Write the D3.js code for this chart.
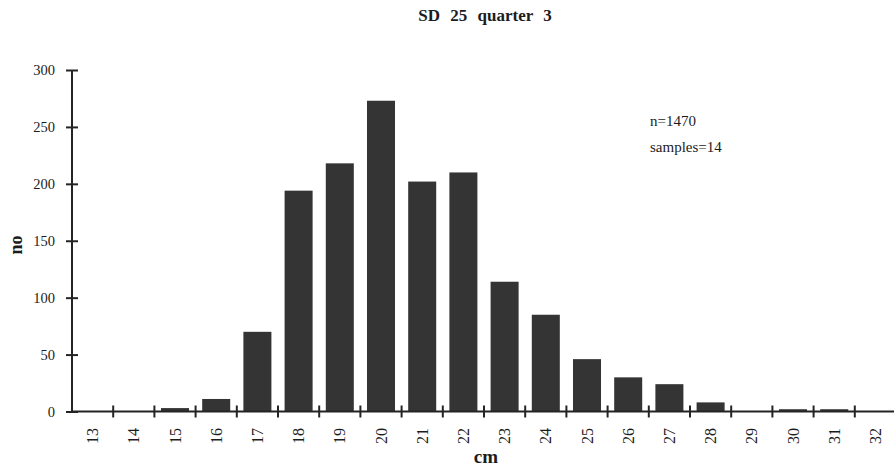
<!DOCTYPE html>
<html>
<head>
<meta charset="utf-8">
<script src="https://cdn.jsdelivr.net/npm/d3@7"></script>
<style>
  html, body { margin: 0; padding: 0; background: #fff; }
  svg { display: block; }
  text { font-family: "Liberation Serif", "Times New Roman", serif; fill: #1c1c1c; }
</style>
</head>
<body>
<svg id="chart" width="894" height="469"></svg>
<script>
// Length classes (cm) and number of fish per class
const categories = ["13","14","15","16","17","18","19","20","21","22","23","24","25","26","27","28","29","30","31","32"];
const counts     = [0, 0, 3, 11, 70, 194, 218, 273, 202, 210, 114, 85, 46, 30, 24, 8, 0, 2, 2, 0];
const yTicks     = [0, 50, 100, 150, 200, 250, 300];
const titleText  = "SD 25 quarter 3";
const notes      = ["n=1470", "samples=14"];

const svg = d3.select("#chart");
const plotLeft = 72, plotRight = 896, plotTop = 70, plotBottom = 411.5;

const x = d3.scaleBand()
  .domain(categories)
  .range([plotLeft, plotRight])
  .paddingInner(0.32)
  .paddingOuter(0.16);

const y = d3.scaleLinear()
  .domain([0, 300])
  .range([plotBottom, plotTop]);

const ink = "#242424";

// bars
svg.append("g")
  .selectAll("rect")
  .data(categories)
  .join("rect")
  .attr("x", d => x(d))
  .attr("width", x.bandwidth())
  .attr("y", (d, i) => y(counts[i]))
  .attr("height", (d, i) => y(0) - y(counts[i]))
  .attr("fill", "#343434");

// y axis with ticks crossing the line
const yAxis = svg.append("g")
  .attr("transform", `translate(${plotLeft},0)`)
  .call(d3.axisLeft(y).tickValues(yTicks).tickSize(6).tickPadding(11));
yAxis.select(".domain").attr("stroke", ink).attr("stroke-width", 2)
  .attr("d", `M0,${y(0)}V${y(300)}`);
yAxis.selectAll(".tick line").attr("x1", -6).attr("x2", 6)
  .attr("stroke", ink).attr("stroke-width", 2);
yAxis.selectAll(".tick text")
  .style("font-family", "Liberation Serif").style("font-size", "14.5px").attr("fill", "#1c1c1c");

// x axis line
svg.append("line")
  .attr("x1", plotLeft).attr("x2", 894)
  .attr("y1", y(0)).attr("y2", y(0))
  .attr("stroke", ink).attr("stroke-width", 2);

// ticks at class boundaries
const step = x.step();
const bounds = categories.map(c => x(c) - step * x.paddingInner() / 2).slice(1)
  .concat([x(categories[categories.length - 1]) + x.bandwidth() + step * x.paddingInner() / 2]);
svg.append("g").selectAll("line")
  .data(bounds.filter(b => b < 894))
  .join("line")
  .attr("x1", d => d).attr("x2", d => d)
  .attr("y1", y(0) - 6).attr("y2", y(0) + 6)
  .attr("stroke", ink).attr("stroke-width", 2);

// rotated category labels
svg.append("g").selectAll("text")
  .data(categories)
  .join("text")
  .attr("transform", d => `translate(${x(d) + x.bandwidth() / 2},428) rotate(-90)`)
  .attr("text-anchor", "end")
  .attr("dy", "0.35em")
  .style("font-size", "16px")
  .text(d => d);

// title
svg.append("text")
  .attr("x", 485).attr("y", 21)
  .attr("text-anchor", "middle")
  .style("font-size", "17px").style("font-weight", "bold")
  .style("word-spacing", "6px")
  .text(titleText);

// axis titles
svg.append("text")
  .attr("x", 486).attr("y", 463)
  .attr("text-anchor", "middle")
  .style("font-size", "19px").style("font-weight", "bold")
  .text("cm");

svg.append("text")
  .attr("transform", "translate(22,245) rotate(-90)")
  .attr("text-anchor", "middle")
  .style("font-size", "18px").style("font-weight", "bold")
  .text("no");

// sample notes
svg.append("g").selectAll("text")
  .data(notes)
  .join("text")
  .attr("x", 650)
  .attr("y", (d, i) => 126 + i * 26)
  .style("font-size", "15px")
  .text(d => d);
</script>
</body>
</html>
